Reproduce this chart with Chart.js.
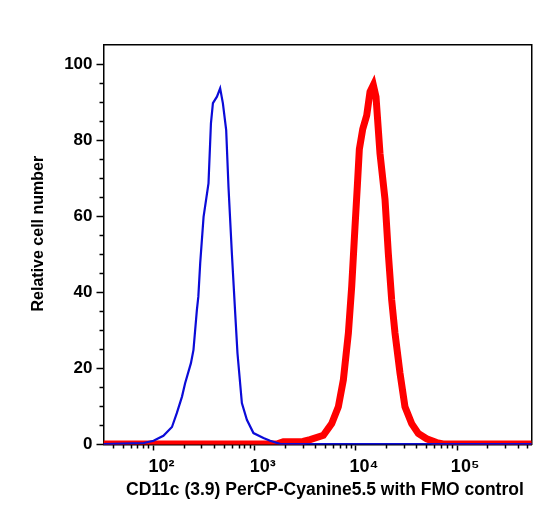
<!DOCTYPE html>
<html>
<head>
<meta charset="utf-8">
<script src="https://cdn.jsdelivr.net/npm/chart.js@4.4.0/dist/chart.umd.min.js"></script>
<style>
  body { margin: 0; background: #fff; }
  canvas { display: block; }
</style>
</head>
<body>
<canvas id="grafico" width="552" height="515"></canvas>
<script>
// FMO control (blue)
const blueX = [32, 80, 100, 125, 152, 170, 191, 205, 234, 248, 268, 277, 289, 312, 349, 369, 386, 423, 455, 484, 522, 550, 594, 641, 675, 746, 836, 971, 1219, 1420, 1800, 546000];
const blueY = [0, 0.3, 0.9, 2.2, 4.5, 8.2, 12.5, 16.0, 21.3, 24.8, 35.3, 38.8, 47.6, 59.8, 68.6, 84.4, 89.7, 91.4, 93.6, 89.7, 82.6, 67.7, 50.2, 34.4, 23.9, 10.8, 6.4, 2.9, 1.6, 0.9, 0, 0];

// CD11c PerCP-Cyanine5.5 (red)
const redX = [32, 1650, 1919, 3000, 3524, 4768, 5767, 6700, 7510, 8420, 9090, 9800, 10330, 10810, 11680, 12790, 13780, 14860, 15790, 17290, 19380, 20890, 22560, 24330, 27250, 30530, 35560, 41330, 50000, 62800, 75000, 546000];
const redY = [0, 0, 0.6, 0.7, 1.2, 2.3, 5.4, 9.8, 16.9, 29.2, 41.6, 57.4, 68.0, 77.6, 82.9, 86.5, 92.7, 94.5, 91.4, 76.5, 64.4, 50.2, 37.9, 29.2, 18.7, 9.8, 5.4, 2.8, 1.4, 0.4, 0, 0];

const yMajor = [0, 20, 40, 60, 80, 100];
const yMinor = [5, 10, 15, 25, 30, 35, 45, 50, 55, 65, 70, 75, 85, 90, 95];
const xMajor = [100, 1000, 10000, 100000];
const xLabels = ["10²", "10³", "10⁴", "10⁵"];
const xMinor = [40, 50, 60, 70, 80, 90,
  200, 300, 400, 500, 600, 700, 800, 900,
  2000, 3000, 4000, 5000, 6000, 7000, 8000, 9000,
  20000, 30000, 40000, 50000, 60000, 70000, 80000, 90000,
  200000, 300000, 400000, 500000];

const X_MIN = 32, X_MAX = 546000;
const Y_MIN = -0.1, Y_MAX = 105;

Chart.defaults.font.family = '"Liberation Sans", Arial, sans-serif';
Chart.defaults.font.weight = "bold";
Chart.defaults.color = "#000";

const pares = (xs, ys) => xs.map((x, i) => ({ x: x, y: ys[i] }));
const fixTicks = (lista) => (scale) => { scale.ticks = lista.map(v => ({ value: v })); };

const ctx = document.getElementById("grafico").getContext("2d");

new Chart(ctx, {
  type: "line",
  data: {
    datasets: [
      {
        label: "FMO control",
        data: pares(blueX, blueY),
        borderColor: "#0b0bd8",
        borderWidth: 2.2,
        pointRadius: 0,
        tension: 0,
        clip: 0
      },
      {
        label: "CD11c (3.9) PerCP-Cyanine5.5",
        data: pares(redX, redY),
        borderColor: "#ff0000",
        borderWidth: 7,
        pointRadius: 0,
        tension: 0,
        clip: 0
      }
    ]
  },
  options: {
    responsive: false,
    animation: false,
    layout: { padding: { top: 45, right: 20.3, left: 0, bottom: 0 } },
    plugins: { legend: { display: false }, tooltip: { enabled: false } },
    scales: {
      x: {
        type: "logarithmic",
        position: "bottom",
        weight: 1,
        min: X_MIN,
        max: X_MAX,
        afterBuildTicks: fixTicks(xMajor),
        afterFit: (s) => { s.height = 70.5; },
        grid: { drawOnChartArea: false, tickLength: 6, tickWidth: 1.5, tickColor: "#000" },
        border: { display: true, color: "#000", width: 1.5 },
        ticks: {
          autoSkip: false,
          maxRotation: 0,
          padding: 6,
          labelOffset: 8,
          font: { size: 18, weight: "bold" },
          callback: (v, i) => xLabels[i]
        },
        title: {
          display: true,
          text: "   CD11c (3.9) PerCP-Cyanine5.5 with FMO control",
          font: { size: 17.5, weight: "bold" },
          padding: { top: 0, bottom: 14 }
        }
      },
      xMinor: {
        type: "logarithmic",
        position: "bottom",
        weight: 0,
        min: X_MIN,
        max: X_MAX,
        afterBuildTicks: fixTicks(xMinor),
        afterFit: (s) => { s.height = 0; },
        grid: { drawOnChartArea: false, tickLength: 4, tickWidth: 1.5, tickColor: "#000" },
        border: { display: false },
        ticks: { autoSkip: false, display: false }
      },
      xTop: {
        type: "linear",
        position: "top",
        min: 0,
        max: 1,
        afterFit: (s) => { s.height = 0; },
        grid: { drawOnChartArea: false, drawTicks: false },
        border: { display: true, color: "#000", width: 1.5 },
        ticks: { display: false }
      },
      y: {
        type: "linear",
        position: "left",
        weight: 1,
        min: Y_MIN,
        max: Y_MAX,
        afterBuildTicks: fixTicks(yMajor),
        afterFit: (s) => { s.width = 103.5; },
        grid: { drawOnChartArea: false, tickLength: 7, tickWidth: 1.5, tickColor: "#000" },
        border: { display: true, color: "#000", width: 1.5 },
        ticks: { padding: 4, font: { size: 17, weight: "bold" } },
        title: {
          display: true,
          text: "     Relative cell number",
          font: { size: 16, weight: "bold" },
          padding: { top: 28.9, bottom: 0 }
        }
      },
      yMinor: {
        type: "linear",
        position: "left",
        weight: 0,
        min: Y_MIN,
        max: Y_MAX,
        afterBuildTicks: fixTicks(yMinor),
        afterFit: (s) => { s.width = 0; },
        grid: { drawOnChartArea: false, tickLength: 4, tickWidth: 1.5, tickColor: "#000" },
        border: { display: false },
        ticks: { display: false }
      },
      yRight: {
        type: "linear",
        position: "right",
        min: 0,
        max: 1,
        afterFit: (s) => { s.width = 0; },
        grid: { drawOnChartArea: false, drawTicks: false },
        border: { display: true, color: "#000", width: 1.5 },
        ticks: { display: false }
      }
    }
  }
});
</script>
</body>
</html>
